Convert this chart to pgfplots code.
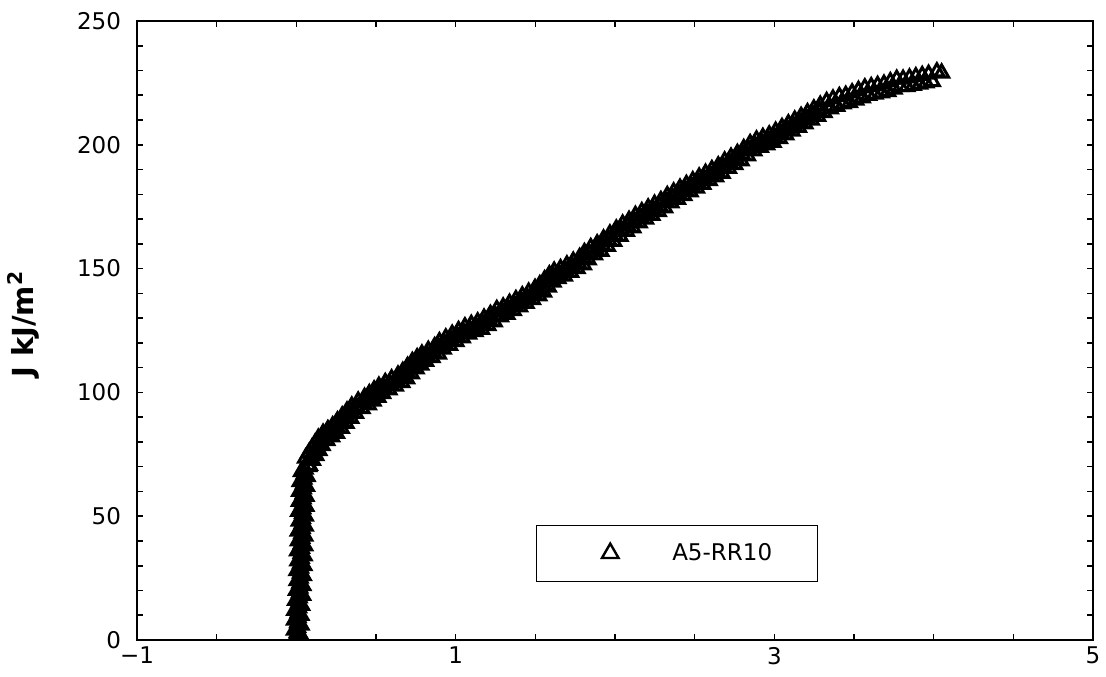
\documentclass[border=0pt]{standalone}
\usepackage{fontspec}
\setmainfont{DejaVu Sans}
\usepackage{pgfplots}
\pgfplotsset{compat=1.18}
\begin{document}
\begin{tikzpicture}
\begin{axis}[
  scale only axis, width=478pt, height=309.5pt,
  xmin=-1, xmax=5, ymin=0, ymax=250,
  xtick={-1,1,3,5}, xticklabels={−1,1,3,5},
  minor xtick={-0.5,0,0.5,1.5,2,2.5,3.5,4,4.5},
  ytick={0,50,100,150,200,250},
  minor ytick={10,20,30,40,60,70,80,90,110,120,130,140,160,170,180,190,210,220,230,240},
  tick align=inside, tick pos=both,
  major tick length=3pt, minor tick length=3pt,
  every tick/.style={black, line width=0.8pt},
  axis line style={line width=1pt},
  tick label style={font=\fontsize{11.5}{13}\selectfont},
  yticklabel style={xshift=-4.5pt},
  /pgf/number format/assume math mode=true,
  ylabel={J kJ/m\textsuperscript{2}},
  ylabel style={font=\bfseries\fontsize{14.5}{16}\selectfont, at={(axis description cs:-0.119,0.51)}, anchor=center},
  clip marker paths=true,
  legend style={at={(0.417,0.094)}, anchor=south west, draw=black, line width=0.6pt,
    inner xsep=0pt, inner ysep=0pt, font=\fontsize{11.5}{13}\selectfont,
    nodes={inner sep=0pt}, /tikz/every even column/.append style={column sep=0pt}},
  legend cell align=left,
  legend image code/.code={\path[draw=none,fill=none] (-37pt,-14pt) rectangle (31pt,14pt); \draw[#1, mark size=4.8pt, line width=1.2pt] plot coordinates {(0pt,0pt)};},
]
\addplot[only marks, mark=triangle, mark size=4pt, black, line width=1.5pt] coordinates {
(-0.015,0) (0.026,2) (-0.012,4) (0.030,6) (-0.012,8) (0.029,10) (-0.010,12) (0.033,14)
(-0.005,16) (0.040,18) (0.000,20) (0.041,22) (0.005,24) (0.044,26) (0.004,28) (0.048,30)
(0.010,32) (0.049,34) (0.008,36) (0.053,38) (0.012,40) (0.053,42) (0.012,44) (0.056,46)
(0.018,48) (0.057,50) (0.015,52) (0.060,54) (0.019,56) (0.061,58) (0.020,60) (0.064,62)
(0.024,64) (0.068,66) (0.032,68) (0.078,70)
(0.006,1) (0.007,3) (0.008,5) (0.009,7) (0.011,9) (0.012,11) (0.014,13) (0.016,15)
(0.018,17) (0.020,19) (0.021,21) (0.023,23) (0.024,25) (0.026,27) (0.027,29) (0.028,31)
(0.030,33) (0.031,35) (0.032,37) (0.033,39) (0.034,41) (0.035,43) (0.036,45) (0.037,47)
(0.038,49) (0.039,51) (0.040,53) (0.041,55) (0.042,57) (0.043,59) (0.044,61) (0.045,63)
(0.047,65) (0.050,67) (0.055,69)
(0.058,73.5) (0.082,70.5) (0.078,75.5) (0.102,72.5) (0.098,77.5) (0.122,74.5) (0.118,79.5) (0.142,76.5)
(0.138,81.5) (0.162,78.5) (0.168,83.5) (0.192,80.5) (0.198,85) (0.222,82) (0.228,86.5) (0.252,83.5)
(0.258,88.5) (0.282,85.5) (0.288,90.5) (0.312,87.5) (0.318,92.5) (0.342,89.5) (0.348,94.5) (0.372,91.5)
(0.388,96.5) (0.412,93.5) (0.428,98) (0.452,95) (0.458,99.5) (0.482,96.5) (0.488,101) (0.512,98)
(0.518,102.5) (0.542,99.5) (0.558,104) (0.582,101) (0.598,105.5) (0.622,102.5) (0.638,107) (0.662,104)
(0.668,108.5) (0.692,105.5) (0.698,110.5) (0.722,107.5) (0.728,112.5) (0.752,109.5) (0.758,114) (0.782,111)
(0.788,115.5) (0.812,112.5) (0.828,117) (0.852,114) (0.868,118.5) (0.892,115.5) (0.898,120.5) (0.922,117.5)
(0.938,122) (0.962,119) (0.978,123.5) (1.002,120.5) (1.018,125) (1.042,122) (1.058,126.5) (1.082,123.5)
(1.098,127.5) (1.122,124.5) (1.138,128.5) (1.162,125.5) (1.178,130) (1.202,127) (1.218,131.5) (1.242,128.5)
(1.258,133.5) (1.282,130.5) (1.298,134.5) (1.322,131.5) (1.338,136) (1.362,133) (1.378,137.5) (1.402,134.5)
(1.418,139) (1.442,136) (1.458,140.5) (1.482,137.5) (1.498,142) (1.522,139) (1.528,143.5) (1.552,140.5)
(1.558,145.5) (1.582,142.5) (1.588,147.5) (1.612,144.5) (1.618,149) (1.642,146) (1.658,150) (1.682,147)
(1.698,151.5) (1.722,148.5) (1.738,153) (1.762,150) (1.778,154.5) (1.802,151.5) (1.808,156.5) (1.832,153.5)
(1.848,158.5) (1.872,155.5) (1.888,160) (1.912,157) (1.928,162) (1.952,159) (1.968,164) (1.992,161)
(2.008,166) (2.032,163) (2.048,168) (2.072,165) (2.088,169.5) (2.112,166.5) (2.128,171.5) (2.152,168.5)
(2.168,173) (2.192,170) (2.208,174.5) (2.232,171.5) (2.248,176) (2.272,173) (2.288,177.5) (2.312,174.5)
(2.328,179.5) (2.352,176.5) (2.368,181) (2.392,178) (2.408,182.5) (2.432,179.5) (2.448,184) (2.472,181)
(2.488,185.5) (2.512,182.5) (2.528,187) (2.552,184) (2.568,188.5) (2.592,185.5) (2.608,190) (2.632,187)
(2.648,191.5) (2.672,188.5) (2.688,193.5) (2.712,190.5) (2.728,195) (2.752,192) (2.768,196.5) (2.792,193.5)
(2.808,198.5) (2.832,195.5) (2.848,200.5) (2.872,197.5) (2.888,202) (2.912,199) (2.928,203) (2.952,200)
(2.968,204) (2.992,201) (3.008,205.5) (3.032,202.5) (3.048,207) (3.072,204) (3.088,208.5) (3.112,205.5)
(3.128,210) (3.152,207) (3.168,211.5) (3.192,208.5) (3.208,213) (3.232,210) (3.248,214.5) (3.272,211.5)
(3.288,216) (3.312,213) (3.328,217.5) (3.352,214.5) (3.368,218.5) (3.392,215.5) (3.408,219.5) (3.432,216.5)
(3.448,220) (3.472,217) (3.488,221) (3.512,218) (3.528,222) (3.552,219) (3.568,223) (3.592,220)
(3.608,223.5) (3.632,220.5) (3.648,224) (3.672,221) (3.688,224.5) (3.712,221.5) (3.728,225.5) (3.752,222.5)
(3.768,226.5) (3.792,223.5) (3.808,226.5) (3.832,223.5) (3.848,227) (3.872,224) (3.888,227.5) (3.912,224.5)
(3.928,228) (3.952,225) (3.968,228.5) (3.992,225.5) (4.02,229.5) (4.05,229)
(0.08,73) (0.10,75) (0.12,77) (0.14,79) (0.165,81) (0.195,82.75) (0.225,84.25) (0.255,86)
(0.285,88) (0.315,90) (0.345,92) (0.38,94) (0.42,95.75) (0.455,97.25) (0.485,98.75) (0.515,100.25)
(0.55,101.75) (0.59,103.25) (0.63,104.75) (0.665,106.25) (0.695,108) (0.725,110) (0.755,111.75) (0.785,113.25)
(0.82,114.75) (0.86,116.25) (0.895,118) (0.93,119.75) (0.97,121.25) (1.01,122.75) (1.05,124.25) (1.09,125.5)
(1.13,126.5) (1.17,127.75) (1.21,129.25) (1.25,131) (1.29,132.5) (1.33,133.75) (1.37,135.25) (1.41,136.75)
(1.45,138.25) (1.49,139.75) (1.525,141.25) (1.555,143) (1.585,145) (1.615,146.75) (1.65,148) (1.69,149.25)
(1.73,150.75) (1.77,152.25) (1.805,154) (1.84,156) (1.88,157.75) (1.92,159.5) (1.96,161.5) (2.00,163.5)
(2.04,165.5) (2.08,167.25) (2.12,169) (2.16,170.75) (2.20,172.25) (2.24,173.75) (2.28,175.25) (2.32,177)
(2.36,178.75) (2.40,180.25) (2.44,181.75) (2.48,183.25) (2.52,184.75) (2.56,186.25) (2.60,187.75) (2.64,189.25)
(2.68,191) (2.72,192.75) (2.76,194.25) (2.80,196) (2.84,198) (2.88,199.75) (2.92,201) (2.96,202)
(3.00,203.25) (3.04,204.75) (3.08,206.25) (3.12,207.75) (3.16,209.25) (3.20,210.75) (3.24,212.25) (3.28,213.75)
};
\addlegendentry{\makebox[72.5pt][l]{A5-RR10}}
\end{axis}
\pgfresetboundingbox
\path[use as bounding box] ([xshift=-68.5pt,yshift=-18pt]current axis.south west) rectangle ([xshift=6.5pt,yshift=10.5pt]current axis.north east);
\end{tikzpicture}
\end{document}
